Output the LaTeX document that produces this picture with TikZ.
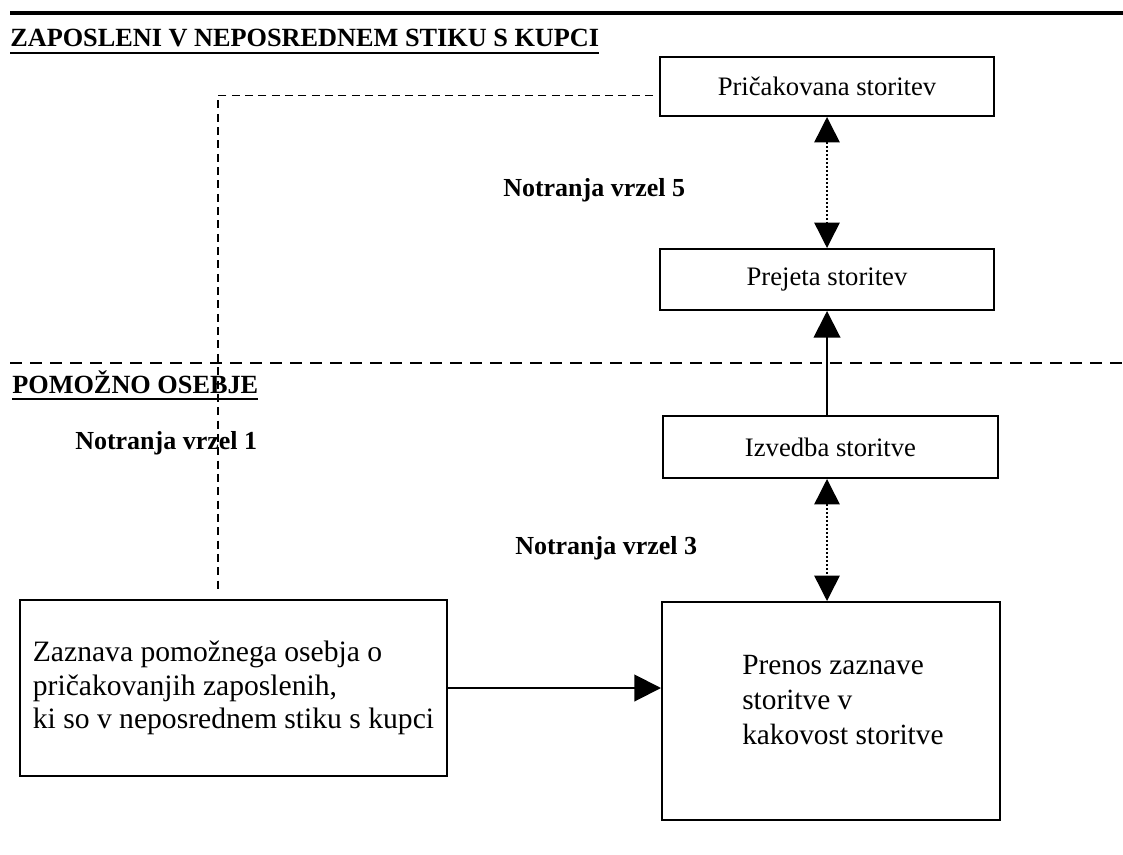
\documentclass[tikz,border=0pt]{standalone}
\usepackage{fontspec}
\setmainfont{Liberation Serif}
\usetikzlibrary{arrows.meta,calc}
\newlength\pxu
\setlength\pxu{0.75pt}
\begin{document}
\begin{tikzpicture}[x=0.75pt,y=-0.75pt,
  box/.style={draw,line width=1.5pt,inner sep=0pt,font=\fontsize{20}{24}\selectfont},
  heading/.style={inner sep=0pt,anchor=base west,font=\fontsize{19.7}{24}\selectfont\bfseries},
  gaplabel/.style={inner sep=0pt,anchor=west,font=\fontsize{19.5}{24}\selectfont\bfseries},
  gaparrow/.style={line width=1.1pt,dash pattern=on 1.5pt off 1.5pt,
    {Triangle[length=19pt,width=19pt]}-{Triangle[length=19pt,width=19pt]}},
  flow/.style={line width=1.5pt,-{Triangle[length=20pt,width=20pt]}},
  separator/.style={line width=1.8pt,dash pattern=on 9pt off 6pt},
  link/.style={line width=1.2pt,dash pattern=on 6pt off 4pt},
  underlined/.style={line width=1.5pt}
]
\useasboundingbox[fill=white] (0,0) rectangle (1123,855);

% frame line and separator between the two levels
\coordinate (topL) at (10,13);
\coordinate (topR) at (1123,13);
\draw[line width=3.5pt] (topL) -- (topR);
\coordinate (sepL) at (10,363);
\coordinate (sepR) at (1123,363);
\draw[separator] (sepL) -- (sepR);

% level headings
\node[heading] (h1) at (10,47) {ZAPOSLENI V NEPOSREDNEM STIKU S KUPCI};
\draw[underlined] ($(h1.base west)+(0,6)$) -- ($(h1.base east)+(0,6)$);
\node[heading] (h2) at (12,393) {POMOŽNO OSEBJE};
\draw[underlined] ($(h2.base west)+(0,6)$) -- ($(h2.base east)+(0,6)$);

% boxes
\node[box,minimum width=334\pxu,minimum height=59\pxu] (pric) at (827,86.5) {Pričakovana storitev};
\node[box,minimum width=334\pxu,minimum height=61\pxu] (prej) at (827,279.5) {Prejeta storitev};
\node[box,minimum width=335\pxu,minimum height=62\pxu] (izv) at (830.5,447) {Izvedba storitve};
\node[box,minimum width=338\pxu,minimum height=218\pxu] (prenos) at (831,711) {};
\node[inner sep=0pt,anchor=west,align=left,font=\fontsize{22}{26.2}\selectfont] (prenostxt) at (742,700)
  {Prenos zaznave\\storitve v\\kakovost storitve};
\node[box,minimum width=427\pxu,minimum height=176\pxu,align=left,
      font=\fontsize{22.2}{25.1}\selectfont] (zaz) at (233.5,688)
  {Zaznava pomožnega osebja o\\pričakovanjih zaposlenih,\\ki so v neposrednem stiku s kupci};

% gap labels
\node[gaplabel] (g5) at (503,190) {Notranja vrzel 5};
\node[gaplabel] (g1) at (75,443) {Notranja vrzel 1};
\node[gaplabel] (g3) at (515,548) {Notranja vrzel 3};

% connectors
\draw[gaparrow] (pric.south) -- (prej.north);
\draw[flow] (izv.north -| prej.south) -- (prej.south);
\draw[gaparrow] (izv.south -| prej.south) -- (prenos.north -| prej.south);
\draw[flow] (zaz.east) -- (zaz.east -| prenos.west);

\coordinate (linkstart) at ($(pric.west)+(-6,9)$);
\coordinate (linkend) at (218,590);
\draw[link] (linkstart) -| (linkend);
\end{tikzpicture}
\end{document}
